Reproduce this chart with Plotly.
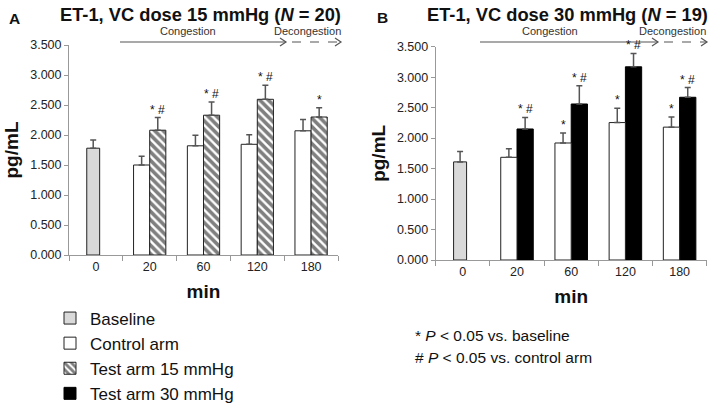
import plotly.graph_objects as go

categories = ["0", "20", "60", "120", "180"]
arm_categories = ["20", "60", "120", "180"]

# Panel A: VC dose 15 mmHg
a_baseline = [1.78]
a_baseline_err = [0.135]
a_control = [1.50, 1.82, 1.845, 2.07]
a_control_err = [0.145, 0.175, 0.16, 0.19]
a_test15 = [2.08, 2.33, 2.595, 2.30]
a_test15_err = [0.21, 0.22, 0.235, 0.155]
a_sig_test = ["* #", "* #", "* #", "*"]

# Panel B: VC dose 30 mmHg
b_baseline = [1.61]
b_baseline_err = [0.17]
b_control = [1.685, 1.92, 2.255, 2.18]
b_control_err = [0.14, 0.165, 0.235, 0.165]
b_test30 = [2.15, 2.56, 3.17, 2.67]
b_test30_err = [0.19, 0.30, 0.22, 0.16]
b_sig_control = ["", "*", "*", "*"]
b_sig_test = ["* #", "* #", "* #", "* #"]

FONT = "Liberation Sans, Arial, sans-serif"
ERR_COLOR = "#555555"
OUTLINE = "#222222"
W = 0.3

def err(vals):
    return dict(type="data", array=vals, arrayminus=[0] * len(vals), symmetric=False,
                color=ERR_COLOR, thickness=1.5, width=3)

fig = go.Figure()

fig.add_trace(go.Bar(name="Baseline", x=["0"], y=a_baseline, error_y=err(a_baseline_err),
                     width=0.24, offset=-0.17, marker=dict(color="#d9d9d9", line=dict(color=OUTLINE, width=1)),
                     xaxis="x", yaxis="y", legendrank=1))
fig.add_trace(go.Bar(name="Control arm", x=arm_categories, y=a_control, error_y=err(a_control_err),
                     width=W, offset=-W, marker=dict(color="white", line=dict(color=OUTLINE, width=1)),
                     xaxis="x", yaxis="y", legendrank=2))
fig.add_trace(go.Bar(name="Test arm 15 mmHg", x=arm_categories, y=a_test15, error_y=err(a_test15_err),
                     width=W, offset=0,
                     marker=dict(color="white", line=dict(color=OUTLINE, width=1),
                                 pattern=dict(shape="\\", fgcolor="black", bgcolor="white", size=6, solidity=0.6)),
                     xaxis="x", yaxis="y", legendrank=3))
fig.add_trace(go.Bar(name="Test arm 30 mmHg", x=arm_categories, y=b_test30, error_y=err(b_test30_err),
                     width=W, offset=0, marker=dict(color="black", line=dict(color="black", width=1)),
                     xaxis="x2", yaxis="y2", legendrank=4))
fig.add_trace(go.Bar(name="Baseline", x=["0"], y=b_baseline, error_y=err(b_baseline_err),
                     width=0.24, offset=-0.17, marker=dict(color="#d9d9d9", line=dict(color=OUTLINE, width=1)),
                     xaxis="x2", yaxis="y2", showlegend=False))
fig.add_trace(go.Bar(name="Control arm", x=arm_categories, y=b_control, error_y=err(b_control_err),
                     width=W, offset=-W, marker=dict(color="white", line=dict(color=OUTLINE, width=1)),
                     xaxis="x2", yaxis="y2", showlegend=False))

annotations = []

def sig(xref, yref, cats, vals, errs, texts, xshift):
    for c, v, e, t in zip(cats, vals, errs, texts):
        if t:
            annotations.append(dict(x=categories.index(c), y=v + e, xref=xref, yref=yref, text=t,
                                    showarrow=False, xanchor="center", yanchor="middle",
                                    xshift=xshift, yshift=8, font=dict(family=FONT, size=12, color="#111")))

sig("x", "y", arm_categories, a_test15, a_test15_err, a_sig_test, 8)
sig("x2", "y2", arm_categories, b_control, b_control_err, b_sig_control, -8)
sig("x2", "y2", arm_categories, b_test30, b_test30_err, b_sig_test, 8)

PW, PH = 709, 404
def px(x): return x / PW
def py(y): return 1 - y / PH

def ptext(x, y, text, size, color="#111", xanchor="center"):
    annotations.append(dict(x=px(x), y=py(y), xref="paper", yref="paper", text=text, showarrow=False,
                            xanchor=xanchor, yanchor="middle", font=dict(family=FONT, size=size, color=color)))

ptext(200.5, 14, "<b>ET-1, VC dose 15 mmHg (<i>N</i> = 20)</b>", 18.3)
ptext(567.5, 14, "<b>ET-1, VC dose 30 mmHg (<i>N</i> = 19)</b>", 18.3)
ptext(14, 18, "<b>A</b>", 15.5)
ptext(382, 17, "<b>B</b>", 15.5)
ptext(188, 31, "Congestion", 11, "#333")
ptext(307, 31, "Decongestion", 11, "#333")
ptext(550, 31, "Congestion", 11, "#333")
ptext(672, 31, "Decongestion", 11, "#333")
ptext(413, 335, "* <i>P</i> < 0.05 vs. baseline", 15.5, xanchor="left")
ptext(413, 357, "# <i>P</i> < 0.05 vs. control arm", 15.5, xanchor="left")

shapes = []
ARROW = "#555555"
def arrow(x0, x1, y, dash):
    shapes.append(dict(type="line", xref="paper", yref="paper", x0=px(x0), x1=px(x1), y0=py(y), y1=py(y),
                       line=dict(color=ARROW, width=1.2, dash=dash)))
    shapes.append(dict(type="path", xref="paper", yref="paper",
                       path=f"M {px(x1-6)} {py(y-4)} L {px(x1)} {py(y)} L {px(x1-6)} {py(y+4)}",
                       line=dict(color=ARROW, width=1.2)))

arrow(120, 286, 42, "solid")
arrow(292, 341, 42, "dash")
arrow(480, 658, 42, "solid")
arrow(664, 707, 42, "dash")

axis_common = dict(showline=True, linecolor="#999", linewidth=1, ticks="outside", tickcolor="#999",
                   ticklen=4, showgrid=False, zeroline=False, automargin=False,
                   tickfont=dict(family=FONT, size=12.5, color="#222"))

xa = dict(axis_common, type="category", categoryorder="array", categoryarray=categories,
          tickson="boundaries", ticklen=5, range=[-0.5, 4.5],
          title=dict(text="<b>min</b>", font=dict(family=FONT, size=19, color="#111"), standoff=11))
ya = dict(axis_common, range=[0, 3.5], tickvals=[0, 0.5, 1, 1.5, 2, 2.5, 3, 3.5], tickformat=".3f",
          title=dict(text="<b>pg/mL</b>", font=dict(family=FONT, size=19, color="#111"), standoff=6))

fig.update_layout(
    width=PW, height=PH,
    margin=dict(l=0, r=0, t=0, b=0, autoexpand=False),
    paper_bgcolor="white", plot_bgcolor="white",
    barmode="overlay",
    xaxis=dict(xa, domain=[px(69), px(338)], anchor="y"),
    yaxis=dict(ya, domain=[py(255), py(45)], anchor="x"),
    xaxis2=dict(xa, domain=[px(435.7), px(706.7)], anchor="y2"),
    yaxis2=dict(ya, domain=[py(260), py(46.7)], anchor="x2"),
    legend=dict(x=px(50), y=-7.5 / PH, xanchor="left", yanchor="bottom", traceorder="normal",
                font=dict(family=FONT, size=17, color="#111"), itemwidth=30,
                bgcolor="rgba(0,0,0,0)", tracegroupgap=0),
    annotations=annotations,
    shapes=shapes,
    showlegend=True,
)

fig.write_html("out.html", config={"displayModeBar": False},
               post_script="document.body.style.margin='0';")
